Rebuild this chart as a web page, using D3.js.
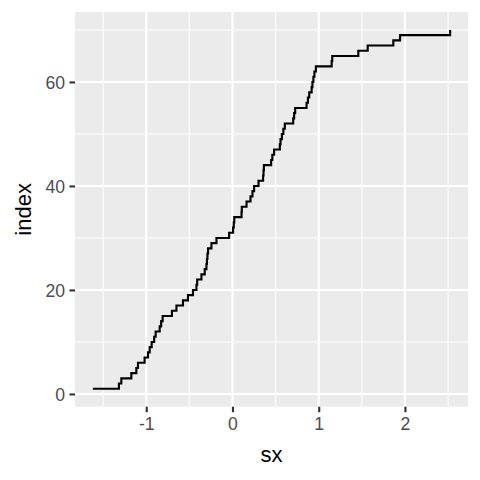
<!DOCTYPE html>
<html>
  <head>
    <meta charset="utf-8">
    <title>index vs sx</title>
    <style>
      body { margin: 0; background: white; }
      .tick-label {
        fill: #4d4d4d;
        font-family: "Liberation Sans", Arial, sans-serif;
        font-size: 17.6px;
      }
      .axis-title {
        fill: black;
        font-family: "Liberation Sans", Arial, sans-serif;
        font-size: 22px;
        text-anchor: middle;
      }
    </style>
  </head>
  <body>
    <script src="https://d3js.org/d3.v7.min.js"></script>
    <script>
      // sorted sx values (index = 1..70)
      const sx = [
        -1.619, -1.317, -1.289, -1.173, -1.115, -1.096, -1.019, -0.980, -0.960, -0.937,
        -0.908, -0.891, -0.844, -0.827, -0.810, -0.702, -0.650, -0.574, -0.516, -0.458,
        -0.418, -0.409, -0.360, -0.322, -0.302, -0.296, -0.290, -0.283, -0.244, -0.186,
        -0.039, 0.007, 0.015, 0.021, 0.105, 0.108, 0.163, 0.209, 0.232, 0.251,
        0.302, 0.355, 0.360, 0.364, 0.448, 0.462, 0.483, 0.549, 0.557, 0.573,
        0.590, 0.607, 0.704, 0.715, 0.727, 0.859, 0.875, 0.890, 0.918, 0.927,
        0.938, 0.950, 0.967, 1.150, 1.157, 1.459, 1.568, 1.865, 1.943, 2.524
      ];
      const index = d3.range(1, sx.length + 1);
      const xTicks = [-1, 0, 1, 2];
      const xMinor = [-1.5, -0.5, 0.5, 1.5, 2.5];
      const yTicks = [0, 20, 40, 60];
      const yMinor = [10, 30, 50, 70];

      const width = 480;
      const height = 480;
      const panel = { left: 75, right: 468, top: 12, bottom: 406.7 };

      const svg = d3.select("body")
        .append("svg")
        .attr("width", width)
        .attr("height", height);

      // ggplot-style 5% expansion
      const xExt = d3.extent(sx);
      const xPad = (xExt[1] - xExt[0]) * 0.05;
      const yExt = d3.extent(index);
      const yPad = (yExt[1] - yExt[0]) * 0.05;

      const x = d3.scaleLinear()
        .domain([xExt[0] - xPad, xExt[1] + xPad])
        .range([panel.left, panel.right]);
      const y = d3.scaleLinear()
        .domain([yExt[0] - yPad, yExt[1] + yPad])
        .range([panel.bottom, panel.top]);

      svg.append("rect")
        .attr("x", panel.left)
        .attr("y", panel.top)
        .attr("width", panel.right - panel.left)
        .attr("height", panel.bottom - panel.top)
        .attr("fill", "#ebebeb");

      const grid = svg.append("g").attr("stroke", "white");

      grid.selectAll(".xminor").data(xMinor).enter().append("line")
        .attr("x1", d => x(d)).attr("x2", d => x(d))
        .attr("y1", panel.top).attr("y2", panel.bottom)
        .attr("stroke-width", 1.07);
      grid.selectAll(".yminor").data(yMinor).enter().append("line")
        .attr("y1", d => y(d)).attr("y2", d => y(d))
        .attr("x1", panel.left).attr("x2", panel.right)
        .attr("stroke-width", 1.07);
      grid.selectAll(".xmajor").data(xTicks).enter().append("line")
        .attr("x1", d => x(d)).attr("x2", d => x(d))
        .attr("y1", panel.top).attr("y2", panel.bottom)
        .attr("stroke-width", 2.13);
      grid.selectAll(".ymajor").data(yTicks).enter().append("line")
        .attr("y1", d => y(d)).attr("y2", d => y(d))
        .attr("x1", panel.left).attr("x2", panel.right)
        .attr("stroke-width", 2.13);

      // step line (hv)
      const line = d3.line()
        .x(d => x(d[0]))
        .y(d => y(d[1]))
        .curve(d3.curveStepAfter);

      svg.append("path")
        .datum(d3.zip(sx, index))
        .attr("fill", "none")
        .attr("stroke", "black")
        .attr("stroke-width", 2.13)
        .attr("d", line);

      // axes
      const xAxis = svg.append("g")
        .attr("transform", `translate(0,${panel.bottom})`)
        .call(d3.axisBottom(x).tickValues(xTicks).tickSize(5.5).tickPadding(4.4).tickFormat(d3.format("d")));
      const yAxis = svg.append("g")
        .attr("transform", `translate(${panel.left},0)`)
        .call(d3.axisLeft(y).tickValues(yTicks).tickSize(5.5).tickPadding(4.4));

      [xAxis, yAxis].forEach(g => {
        g.select(".domain").remove();
        g.selectAll(".tick line").attr("stroke", "#333333").attr("stroke-width", 2.13);
        g.selectAll(".tick text")
          .attr("class", "tick-label")
          .attr("font-family", null)
          .attr("font-size", null)
          .attr("fill", null);
      });
      xAxis.selectAll(".tick text").attr("dy", "0.75em");
      yAxis.selectAll(".tick text").attr("dy", "0.36em");
      xAxis.selectAll(".tick text").text(d => d < 0 ? "-" + Math.abs(d) : d);

      svg.append("text")
        .attr("class", "axis-title")
        .attr("x", (panel.left + panel.right) / 2)
        .attr("y", 462)
        .text("sx");

      svg.append("text")
        .attr("class", "axis-title")
        .attr("transform", `translate(31,${(panel.top + panel.bottom) / 2}) rotate(-90)`)
        .text("index");
    </script>
  </body>
</html>
